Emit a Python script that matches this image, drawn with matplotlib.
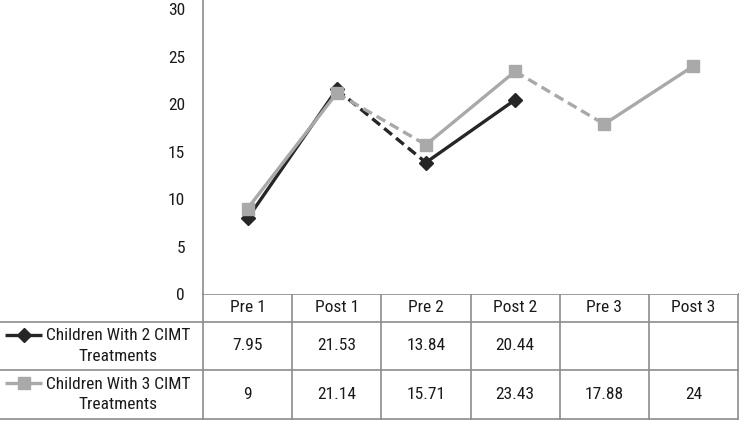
import numpy as np
import matplotlib.pyplot as plt

plt.rcParams['font.family'] = ['Roboto Condensed', 'DejaVu Sans']

categories = ["Pre 1", "Post 1", "Pre 2", "Post 2", "Pre 3", "Post 3"]
series_names = ["Children With 2 CIMT\nTreatments", "Children With 3 CIMT\nTreatments"]
two_cimt = [7.95, 21.53, 13.84, 20.44, None, None]
three_cimt = [9, 21.14, 15.71, 23.43, 17.88, 24]
yticks = [0, 5, 10, 15, 20, 25, 30]

colors = ["#262626", "#a9a9a9"]
markers = ["D", "s"]
msizes = [7, 8.5]
text_col = "#1a1a1a"
grid_col = "#8c8c8c"
fs = 12.5

W, H = 740, 421
fig = plt.figure(figsize=(W / 100, H / 100), dpi=100)

# plot area in pixels
left, right, top, bottom = 203, 738, 0, 294
ax = fig.add_axes([left / W, 1 - bottom / H, (right - left) / W, (bottom - top) / H])
ax.set_xlim(-0.5, len(categories) - 0.5)
ax.set_ylim(0, 30.95)
ax.set_yticks(yticks)
ax.set_yticklabels([str(t) for t in yticks], fontsize=fs, color=text_col)
ax.tick_params(axis='y', length=0, pad=13)
ax.set_xticks([])
for s in ["top", "right", "bottom"]:
    ax.spines[s].set_visible(False)
ax.spines["left"].set_color(grid_col)
ax.spines["left"].set_linewidth(1.2)

# segments: solid within a treatment period (pre->post), dashed between
for vals, c, m, ms in zip([two_cimt, three_cimt], colors, markers, msizes):
    for i in range(len(vals) - 1):
        if vals[i] is None or vals[i + 1] is None:
            continue
        ls = "-" if i % 2 == 0 else (0, (3, 1.6))
        ax.plot([i, i + 1], [vals[i], vals[i + 1]], color=c, lw=2.4, ls=ls,
                solid_capstyle="butt", zorder=2)
    xs = [i for i, v in enumerate(vals) if v is not None]
    ys = [v for v in vals if v is not None]
    ax.plot(xs, ys, ls="none", marker=m, ms=ms, color=c, zorder=3)

# data table below the plot, in pixel coordinates
tab = fig.add_axes([0, 0, 1, 1], zorder=-1)
tab.set_xlim(0, W)
tab.set_ylim(H, 0)
tab.axis("off")

n = len(categories)
colw = (right - left) / n
xb = [left + i * colw for i in range(n + 1)]
rows = [bottom, 322, 370, 419]
lkw = dict(color=grid_col, lw=1.2)

tab.plot([left, right], [rows[0], rows[0]], **lkw)
for y in rows[1:]:
    tab.plot([0, right], [y, y], **lkw)
for x in xb:
    tab.plot([x, x], [rows[0], rows[-1]], **lkw)

for i, cat in enumerate(categories):
    tab.text((xb[i] + xb[i + 1]) / 2, (rows[0] + rows[1]) / 2, cat,
             ha="center", va="center", fontsize=fs, color=text_col)

for r, (vals, name, c, m, ms) in enumerate(zip([two_cimt, three_cimt], series_names,
                                                colors, markers, msizes)):
    y0, y1 = rows[r + 1], rows[r + 2]
    ymid = (y0 + y1) / 2
    for i, v in enumerate(vals):
        if v is None:
            continue
        tab.text((xb[i] + xb[i + 1]) / 2, ymid, f"{v:g}",
                 ha="center", va="center", fontsize=fs, color=text_col)
    tab.text(118, ymid, name, ha="center", va="center", fontsize=fs,
             color=text_col, linespacing=1.45)
    ky = y0 + 13
    tab.plot([5, 42], [ky, ky], color=c, lw=2.4, solid_capstyle="butt")
    tab.plot([23.5], [ky], marker=m, ms=ms, color=c, ls="none")

fig.savefig("out.png", dpi=100)
